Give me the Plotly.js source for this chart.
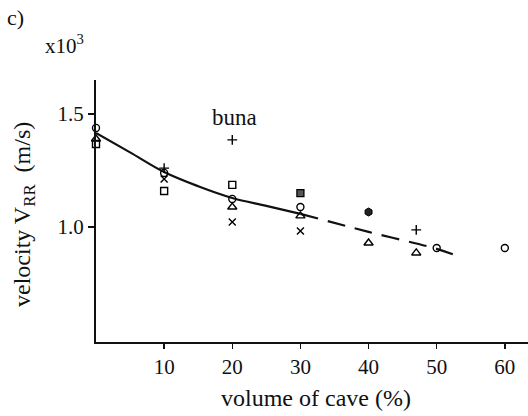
<!DOCTYPE html>
<html>
<head>
<meta charset="utf-8">
<script src="https://cdn.plot.ly/plotly-3.0.1.min.js"></script>
<style>html,body{margin:0;padding:0;background:#fff;}#chart{width:528px;height:416px;}</style>
</head>
<body>
<div id="chart"></div>
<script>
// Data (velocity in units of 10^3 m/s)
const fitSolidX = [0, 5, 10, 15, 20, 25, 30];
const fitSolidY = [1.416, 1.33, 1.243, 1.18, 1.128, 1.093, 1.058];
const fitDashX = [30, 40, 50, 53.4];
const fitDashY = [1.058, 0.978, 0.903, 0.867];

const circleX = [0, 10, 20, 30, 50, 60];
const circleY = [1.438, 1.239, 1.124, 1.088, 0.907, 0.907];
const triangleX = [0, 20, 30, 40, 47];
const triangleY = [1.389, 1.088, 1.049, 0.929, 0.885];
const squareX = [0, 10, 20];
const squareY = [1.367, 1.159, 1.186];
const filledSquareX = [30];
const filledSquareY = [1.150];
const xMarkX = [10, 20, 30];
const xMarkY = [1.212, 1.022, 0.982];
const plusX = [10, 20, 47];
const plusY = [1.26, 1.385, 0.987];
const hexX = [40];
const hexY = [1.066];

const xTickVals = [10, 20, 30, 40, 50, 60];
const xTickText = ['10', '20', '30', '40', '50', '60'];
const yTickVals = [1.0, 1.5];
const yTickText = ['1.0', '1.5'];

const serif = 'Liberation Serif, Times New Roman, serif';

function mk(x, y, symbol, size) {
  return {
    x: x, y: y, type: 'scatter', mode: 'markers', cliponaxis: false,
    marker: {symbol: symbol, size: size, color: '#000', line: {color: '#000', width: 1.4}},
    hoverinfo: 'skip', showlegend: false
  };
}

const traces = [
  {x: fitSolidX, y: fitSolidY, type: 'scatter', mode: 'lines', line: {color: '#111', width: 2.2, shape: 'spline'}, showlegend: false, hoverinfo: 'skip'},
  {x: fitDashX, y: fitDashY, type: 'scatter', mode: 'lines', line: {color: '#111', width: 2.2, dash: '18px,10px', shape: 'spline'}, showlegend: false, hoverinfo: 'skip'},
  mk(circleX, circleY, 'circle-open', 7),
  mk(triangleX, triangleY, 'triangle-up-open', 8),
  mk(squareX, squareY, 'square-open', 7),
  {x: filledSquareX, y: filledSquareY, type: 'scatter', mode: 'markers', cliponaxis: false,
   marker: {symbol: 'square', size: 7, color: '#555', line: {color: '#000', width: 1.3}}, showlegend: false, hoverinfo: 'skip'},
  mk(xMarkX, xMarkY, 'x-thin-open', 7),
  mk(plusX, plusY, 'cross-thin-open', 7),
  {x: hexX, y: hexY, type: 'scatter', mode: 'markers', cliponaxis: false,
   marker: {symbol: 'hexagon', size: 8, color: '#222', line: {color: '#000', width: 1}}, showlegend: false, hoverinfo: 'skip'}
];

const layout = {
  width: 528, height: 416,
  margin: {l: 96, r: 0, t: 80, b: 74},
  paper_bgcolor: '#fff', plot_bgcolor: '#fff',
  showlegend: false,
  font: {family: serif, color: '#111', size: 20},
  xaxis: {
    range: [0, 63.4], showgrid: false, zeroline: false,
    showline: true, linecolor: '#111', linewidth: 2,
    ticks: 'outside', ticklen: 5, tickwidth: 1.5, tickcolor: '#111',
    tickvals: xTickVals, ticktext: xTickText,
    tickfont: {family: serif, size: 21, color: '#111'}
  },
  yaxis: {
    range: [0.491, 1.65], showgrid: false, zeroline: false,
    showline: true, linecolor: '#111', linewidth: 2,
    ticks: 'outside', ticklen: 6, tickwidth: 1.5, tickcolor: '#111',
    tickvals: yTickVals, ticktext: yTickText,
    tickfont: {family: serif, size: 21, color: '#111'}
  },
  annotations: [
    {text: 'c)', xref: 'paper', yref: 'paper', x: -91/432, y: 1 + 63/262, xanchor: 'left', yanchor: 'middle', showarrow: false, font: {family: serif, size: 22, color: '#111'}},
    {text: 'x10<sup>3</sup>', xref: 'paper', yref: 'paper', x: -53/432, y: 1 + 36/262, xanchor: 'left', yanchor: 'middle', showarrow: false, font: {family: serif, size: 21, color: '#111'}},
    {text: 'buna', x: 20.3, y: 1.482, xref: 'x', yref: 'y', xanchor: 'center', yanchor: 'middle', showarrow: false, font: {family: serif, size: 23, color: '#111'}},
    {text: 'volume of cave (%)', xref: 'paper', yref: 'paper', x: (316-96)/432, y: -56/262, xanchor: 'center', yanchor: 'middle', showarrow: false, font: {family: serif, size: 24, color: '#111'}},
    {text: 'velocity V<sub>RR</sub>  (m/s)', xref: 'paper', yref: 'paper', x: -72/432, y: (342-215)/262, xanchor: 'center', yanchor: 'middle', textangle: -90, showarrow: false, font: {family: serif, size: 24, color: '#111'}}
  ]
};

Plotly.newPlot('chart', traces, layout, {staticPlot: true, displayModeBar: false});
</script>
</body>
</html>
